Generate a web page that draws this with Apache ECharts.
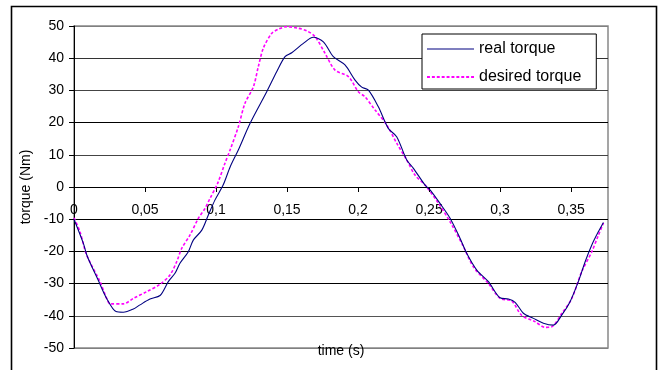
<!DOCTYPE html>
<html>
<head>
<meta charset="utf-8">
<script src="https://cdn.jsdelivr.net/npm/echarts@6/dist/echarts.min.js"></script>
<style>html,body{margin:0;padding:0;background:#fff;}#c{width:670px;height:370px;}</style>
</head>
<body>
<div id="c"></div>
<script>
const realT = [0, 0.0066, 0.0094, 0.017, 0.023, 0.0296, 0.0347, 0.0418, 0.0465, 0.0535, 0.0606, 0.0664, 0.0711, 0.0746, 0.0805, 0.084, 0.09, 0.0946, 0.0993, 0.105, 0.11, 0.1157, 0.124, 0.1357, 0.1427, 0.1486, 0.1533, 0.1615, 0.1685, 0.1756, 0.1826, 0.1908, 0.1979, 0.2026, 0.2073, 0.2143, 0.2213, 0.2272, 0.2343, 0.239, 0.2472, 0.2507, 0.2577, 0.2648, 0.2718, 0.2765, 0.2836, 0.2918, 0.3, 0.3059, 0.3106, 0.3164, 0.3235, 0.3305, 0.3375, 0.3434, 0.3493, 0.3551, 0.3599, 0.3646, 0.3692, 0.3728];
const realV = [-10, -17.5, -21.6, -28.9, -34.6, -38.7, -38.9, -37.9, -36.6, -34.8, -33.7, -29.4, -26.8, -23.7, -20.1, -16.5, -13.4, -8.7, -4, 0.6, 6.3, 11.5, 19.8, 29.6, 35.8, 40.5, 41.7, 44.6, 46.5, 45.1, 40.5, 37.9, 33.2, 31, 30.1, 24.9, 18.2, 15.6, 8.4, 5.8, 0.6, -0.9, -5.1, -9.7, -15.9, -20.6, -25.8, -29.4, -34.4, -34.8, -35.8, -39.2, -40.8, -42.3, -42.9, -39.8, -35.6, -29.4, -23.2, -18, -13.9, -11];
const desT = [0, 0.0042, 0.0089, 0.0183, 0.023, 0.0254, 0.0347, 0.0418, 0.0512, 0.0606, 0.0676, 0.0723, 0.0758, 0.0817, 0.0876, 0.0923, 0.0958, 0.101, 0.1063, 0.1099, 0.1157, 0.1204, 0.1263, 0.1298, 0.1333, 0.1392, 0.1439, 0.1498, 0.158, 0.1639, 0.1697, 0.1768, 0.1838, 0.1932, 0.2002, 0.2049, 0.212, 0.2202, 0.2272, 0.2343, 0.2401, 0.2472, 0.2565, 0.2648, 0.2742, 0.2812, 0.2918, 0.3, 0.3082, 0.3153, 0.3246, 0.3317, 0.3364, 0.3434, 0.3505, 0.3575, 0.3646, 0.3692, 0.3728];
const desV = [-9.6, -13.9, -21.1, -29.4, -34.6, -36.3, -36.3, -34.6, -32.5, -30.2, -27.3, -23.2, -19.1, -14.9, -9.7, -6.6, -3.5, 1, 7.4, 11.5, 18.7, 26, 31.1, 37.4, 43.1, 47.7, 49, 49.8, 49.3, 48.5, 46.7, 41.5, 36.3, 34.3, 29.6, 28, 23.9, 19.3, 13.6, 8.4, 3.7, 0.6, -5, -10.8, -18.5, -24.8, -30, -34.6, -35.4, -39.9, -41.8, -43.6, -43.4, -39.3, -34.6, -26.3, -20.1, -15, -11.2];
const xTicks = [0, 0.05, 0.1, 0.15, 0.2, 0.25, 0.3, 0.35];
const seriesNames = ['real torque', 'desired torque'];

const realData = realT.map((t, i) => [t, realV[i]]);
const desData = desT.map((t, i) => [t, desV[i]]);

// legend line samples
let dashPath = 'path://';
for (let i = 0; i < 10; i++) dashPath += 'M' + (i * 5) + ',0h3v2h-3z';
const solidPath = 'path://M0,0h48v1h-48z';

const chart = echarts.init(document.getElementById('c'), null, {renderer: 'canvas'});
const font = 'Liberation Sans, Arial, sans-serif';
const W = 670, H = 370, gTop = 26, gBottom = 22, yMin = -50, yMax = 50;
// place the x axis on the y = 0 line (axis offset from bottom of plot)
const plotH = H - gTop - gBottom;
const zeroOffset = -plotH * (0 - yMin) / (yMax - yMin);

chart.setOption({
  animation: false,
  backgroundColor: '#fff',
  textStyle: {fontFamily: font},
  graphic: [{
    type: 'rect', silent: true, z: -1,
    shape: {x: 11.5, y: 6.5, width: 645, height: 420},
    style: {fill: 'none', stroke: '#000', lineWidth: 1.6}
  }],
  grid: {left: 74, top: gTop, right: 62, bottom: gBottom, show: true, borderColor: '#888', borderWidth: 1.5, backgroundColor: 'transparent', containLabel: false, outerBoundsMode: 'none'},
  legend: {
    orient: 'vertical', left: 422, top: 34,
    data: [
      {name: seriesNames[0], icon: solidPath},
      {name: seriesNames[1], icon: dashPath}
    ],
    backgroundColor: '#fff', borderColor: '#000', borderWidth: 1,
    padding: [7, 15, 4, 5], itemGap: 12, itemWidth: 47, itemHeight: 14,
    textStyle: {fontFamily: font, fontSize: 16, color: '#000'}
  },
  xAxis: {
    type: 'value', min: 0, max: 0.376, interval: 0.05,
    position: 'bottom', offset: zeroOffset,
    name: 'time (s)', nameLocation: 'middle', nameGap: 157,
    nameTextStyle: {fontFamily: font, fontSize: 14, color: '#000'},
    axisLine: {onZero: false, lineStyle: {color: '#000', width: 1}},
    axisTick: {show: true, length: 5, inside: false, customValues: xTicks, lineStyle: {color: '#000'}},
    axisLabel: {
      customValues: xTicks, margin: 16, fontSize: 14, color: '#000', fontFamily: font,
      formatter: v => String(+(+v).toFixed(2)).replace('.', ',')
    },
    splitLine: {show: false}
  },
  yAxis: {
    type: 'value', min: yMin, max: yMax, interval: 10,
    name: 'torque (Nm)', nameLocation: 'middle', nameGap: 34, nameRotate: 90,
    nameTextStyle: {fontFamily: font, fontSize: 14, color: '#000'},
    axisLine: {show: true, lineStyle: {color: '#000', width: 1}},
    axisTick: {show: true, length: 5, inside: false, lineStyle: {color: '#000'}},
    axisLabel: {margin: 10, fontSize: 14, color: '#000', fontFamily: font},
    splitLine: {show: true, lineStyle: {width: 1, color: ['#808080', '#555', '#000', '#000', '#000', '#000', '#444', '#000', '#444', '#333', '#808080']}}
  },
  series: [
    {name: seriesNames[0], type: 'line', data: realData, showSymbol: false, symbol: 'none', smooth: 0.3, z: 3,
     lineStyle: {color: '#000080', width: 1.1}, itemStyle: {color: '#000080'}},
    {name: seriesNames[1], type: 'line', data: desData, showSymbol: false, symbol: 'none', smooth: 0.3, z: 2,
     lineStyle: {color: '#FF00FF', width: 1.6, type: [3, 2]}, itemStyle: {color: '#FF00FF'}}
  ]
});
</script>
</body>
</html>
